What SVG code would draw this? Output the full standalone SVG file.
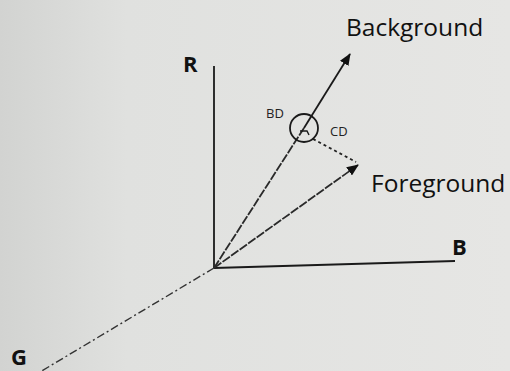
<svg xmlns="http://www.w3.org/2000/svg" width="510" height="371" viewBox="0 0 510 371">
<defs>
<linearGradient id="bg" x1="0" y1="0" x2="1" y2="0">
<stop offset="0" stop-color="#d2d3d1"/>
<stop offset="0.25" stop-color="#e0e1df"/>
<stop offset="1" stop-color="#e6e6e4"/>
</linearGradient>
<marker id="ah" viewBox="0 0 12 10" refX="11" refY="5" markerWidth="12" markerHeight="10" markerUnits="userSpaceOnUse" orient="auto">
<path d="M0,0 L12,5 L0,10 Z" fill="#111"/>
</marker>
<style>
.lbl{font-family:"Open Sans","DejaVu Sans",sans-serif;fill:#111}
.ax{font-family:"Open Sans","DejaVu Sans",sans-serif;font-weight:bold;fill:#111;font-size:22px}
.sm{font-family:"Open Sans","DejaVu Sans",sans-serif;fill:#222;font-size:13px}
.axis{stroke:#1a1a1a;stroke-width:1.8;fill:none}
.vec{stroke:#2a2a2a;stroke-width:1.8;fill:none;stroke-dasharray:9 1.5}
</style>
</defs>
<rect width="510" height="371" fill="url(#bg)"/>
<g id="connectors">
<line class="axis" x1="214" y1="66" x2="214" y2="268"/>
<line class="axis" x1="214" y1="268" x2="455" y2="261"/>
<line x1="214" y1="268" x2="40" y2="372" stroke="#333" stroke-width="1.4" stroke-dasharray="8 3 2 3"/>
<line class="vec" x1="214" y1="268" x2="304" y2="128"/>
<line class="axis" x1="304" y1="128" x2="350" y2="54" marker-end="url(#ah)"/>
<line class="vec" x1="214" y1="268" x2="358" y2="165" marker-end="url(#ah)"/>
<line x1="313" y1="139" x2="356" y2="162" stroke="#222" stroke-width="1.8" stroke-dasharray="3 3"/>
</g>
<g id="axis-R"><text class="ax" x="183" y="72">R</text></g>
<g id="axis-B"><text class="ax" x="452" y="255">B</text></g>
<g id="axis-G"><text class="ax" x="11" y="365">G</text></g>
<g id="background"><text class="lbl" x="346" y="36" font-size="24.5">Background</text></g>
<g id="foreground"><text class="lbl" x="371" y="192" font-size="24.5">Foreground</text></g>
<g id="circle">
<circle cx="304" cy="128" r="14" fill="none" stroke="#1a1a1a" stroke-width="1.8"/>
<path d="M300,131 L307,131 L309,135" fill="none" stroke="#1a1a1a" stroke-width="1.4"/>
</g>
<g id="BD"><text class="sm" x="266" y="118">BD</text></g>
<g id="CD"><text class="sm" x="330" y="136">CD</text></g>
</svg>
